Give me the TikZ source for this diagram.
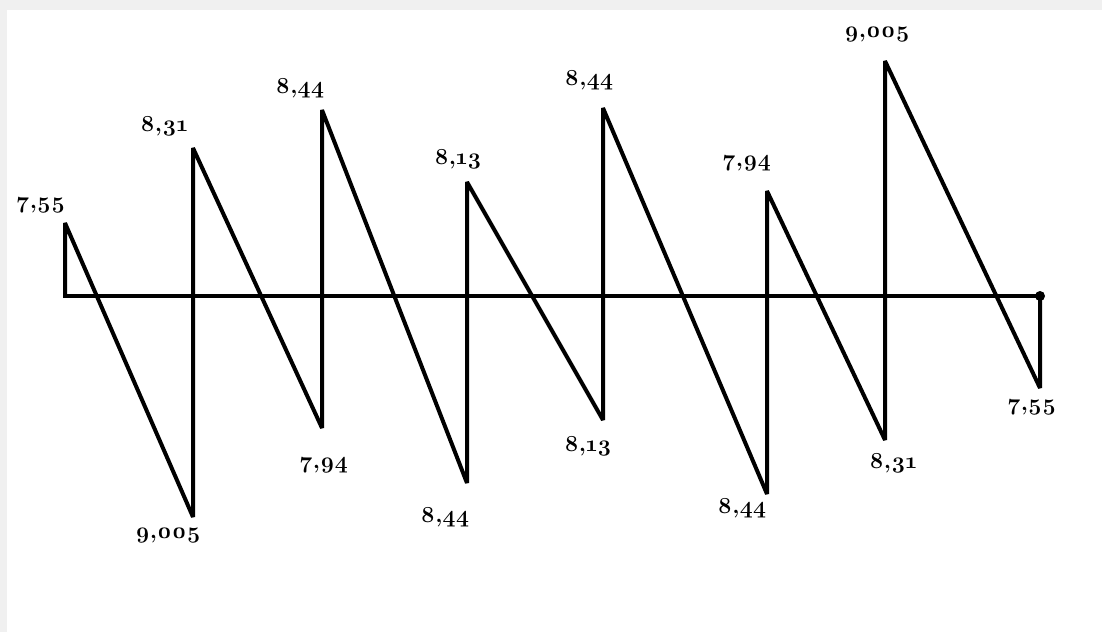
\documentclass[tikz,border=0pt]{standalone}
\usepackage{fontspec}
\setmainfont{Latin Modern Roman}[Numbers=OldStyle]

\begin{document}
\begin{tikzpicture}[x=0.5pt, y=-0.5pt, every node/.style={font=\bfseries\fontsize{11.5}{13}\selectfont, inner sep=0pt}, saw/.style={line width=2pt, line join=bevel, line cap=butt}]
	\useasboundingbox (0,0) rectangle (1102,632);
	\fill[black!6] (0,0) rectangle (1102,632);
	\fill[white] (7,10) rectangle (1102,632);
	% axis and sawtooth corners
	\coordinate (a0) at (63,296);
	\coordinate (a1) at (1040,296);
	\foreach \n/\x/\top/\bot in {p1/65/223/296, p2/193/148/517, p3/322/110/428, p4/467/182/483, p5/603/108/420, p6/767/191/494, p7/885/61/440, p8/1040/296/388} {
		\coordinate (\n t) at (\x,\top);
		\coordinate (\n b) at (\x,\bot);
	}
	\draw[saw] (a0) -- (a1);
	\draw[saw] (p1b) -- (p1t) -- (p2b) -- (p2t) -- (p3b) -- (p3t) -- (p4b) -- (p4t) -- (p5b) -- (p5t) -- (p6b) -- (p6t) -- (p7b) -- (p7t) -- (p8b) -- (p8t);
	\fill (a1) circle (2.5pt);
	% values
	\node (l1) at (41,205) {7,55};
	\node (l2) at (164,126) {8,31};
	\node (l3) at (300,88) {8,44};
	\node (l4) at (458,159) {8,13};
	\node (l5) at (589,80) {8,44};
	\node (l6) at (747,163) {7,94};
	\node (l7) at (877,35) {9,005};
	\node (m2) at (168,536) {9,005};
	\node (m3) at (324,465) {7,94};
	\node (m4) at (445,517) {8,44};
	\node (m5) at (588,446) {8,13};
	\node (m6) at (742,508) {8,44};
	\node (m7) at (893,463) {8,31};
	\node (m8) at (1032,407) {7,55};
\end{tikzpicture}
\end{document}
